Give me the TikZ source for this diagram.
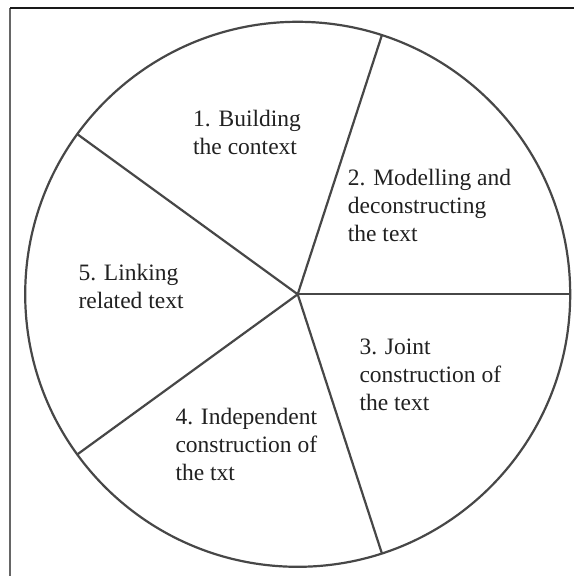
\documentclass[tikz,border=0pt]{standalone}
\usepackage{fontspec}
\setmainfont{Liberation Serif}
\usetikzlibrary{calc}
\begin{document}
\begin{tikzpicture}[x=1pt,y=1pt,
  wheel/.style={draw=black!72, line width=2.2pt},
  lbl/.style={anchor=base west, inner sep=0pt, align=left, text=black!87,
    font=\fontsize{23.5}{28}\selectfont},
  frameline/.style={line width=1.5pt}]
\useasboundingbox (0,0) rectangle (574,576);
\fill[white] (0,0) rectangle (574,576);
% frame (only top and left edges visible)
\coordinate (fbl) at (10,0);
\coordinate (ftl) at (10,568);
\coordinate (ftr) at (574,568);
\draw[frameline, draw=black!60] (fbl) -- (ftl);
\draw[frameline, draw=black!90] (ftl) -- (ftr);
% wheel
\coordinate (c) at (297.7,281.7);
\def\R{272.5}
\draw[wheel] (c) circle (\R);
\coordinate (s0) at ($(c)+(0:\R)$);
\coordinate (s1) at ($(c)+(72:\R)$);
\coordinate (s2) at ($(c)+(144:\R)$);
\coordinate (s3) at ($(c)+(216:\R)$);
\coordinate (s4) at ($(c)+(288:\R)$);
\foreach \s in {s0,s1,s2,s3,s4} \draw[wheel] (c) -- (\s);
% labels (anchor = baseline of last line)
\node[lbl] (t1) at (193,421) {1. Building\\the context};
\node[lbl] (t2) at (347.7,334.3) {2. Modelling and\\deconstructing\\the text};
\node[lbl] (t3) at (359.3,165) {3. Joint\\construction of\\the text};
\node[lbl] (t4) at (175.3,95) {4. Independent\\construction of\\the txt};
\node[lbl] (t5) at (78.3,267) {5. Linking\\related text};
\end{tikzpicture}
\end{document}
